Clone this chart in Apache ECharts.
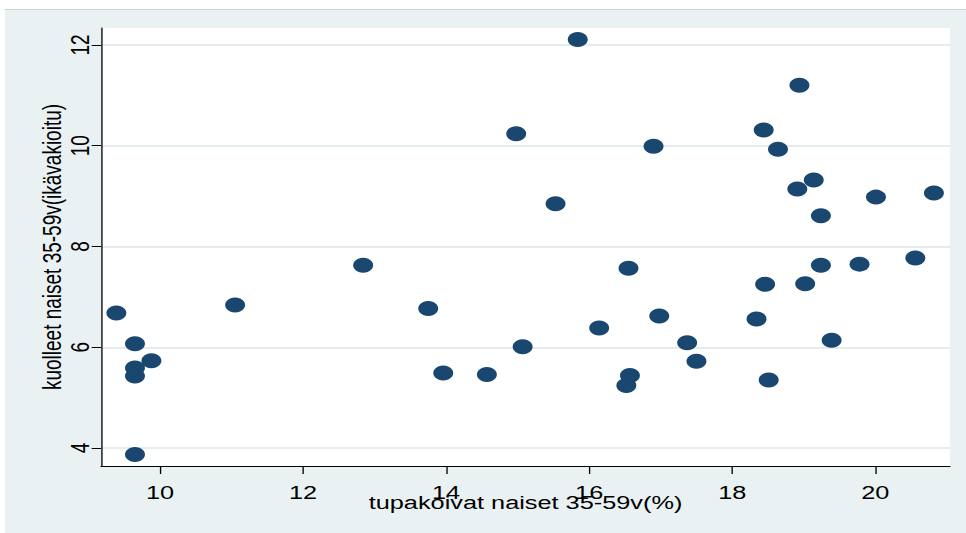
<!DOCTYPE html>
<html>
<head>
<meta charset="utf-8">
<script src="https://cdn.jsdelivr.net/npm/echarts@6/dist/echarts.min.js"></script>
<style>
  html, body { margin: 0; padding: 0; background: #ffffff; width: 966px; height: 533px; overflow: hidden; }
  #frame { position: absolute; left: 5px; top: 9px; right: 0; bottom: 0; background: #eaf1f3; border-top: 1px solid #cfd4d6; }
  #chart { position: absolute; left: 0; top: 0; width: 725px; height: 533px; transform: scaleX(1.33241); transform-origin: 0 0; }
</style>
</head>
<body>
<div id="frame"></div>
<div id="chart"></div>
<script>
// Smoking women aged 35-59 (%) vs. age-standardised deaths of women aged 35-59
const smokingPct = [9.39, 9.65, 9.88, 9.65, 9.65, 9.65, 11.05, 12.84, 13.75, 13.96,
  14.57, 14.98, 15.07, 15.53, 15.84, 16.14, 16.52, 16.55, 16.57, 16.90,
  16.98, 17.37, 17.50, 18.34, 18.44, 18.46, 18.51, 18.64, 18.91, 18.94,
  19.02, 19.14, 19.24, 19.24, 19.39, 19.78, 20.01, 20.56, 20.82];
const deaths = [6.68, 6.07, 5.73, 5.59, 5.43, 3.87, 6.84, 7.63, 6.77, 5.49,
  5.46, 10.24, 6.01, 8.85, 12.11, 6.38, 5.24, 7.57, 5.44, 9.99,
  6.62, 6.09, 5.72, 6.56, 10.31, 7.25, 5.35, 9.93, 9.14, 11.20,
  7.26, 9.32, 8.61, 7.63, 6.14, 7.65, 8.98, 7.77, 9.06];
const xTicks = [10, 12, 14, 16, 18, 20];
const yTicks = [4, 6, 8, 10, 12];
const xTitle = 'tupakoivat naiset 35-59v(%)';
const yTitle = 'kuolleet naiset 35-59v(ikävakioitu)';

const points = smokingPct.map((x, i) => [x, deaths[i]]);
const font = '"Liberation Sans", Arial, Helvetica, sans-serif';

const chart = echarts.init(document.getElementById('chart'), null, { renderer: 'svg' });
chart.setOption({
  animation: false,
  backgroundColor: 'transparent',
  grid: {
    left: 75.8, right: 12, top: 28, bottom: 67,
    show: true, backgroundColor: '#ffffff', borderWidth: 0
  },
  xAxis: {
    type: 'value',
    min: 9.175, max: 21.045,
    name: xTitle,
    nameLocation: 'middle',
    nameGap: 27,
    nameMoveOverlap: false,
    nameTextStyle: { fontFamily: font, fontSize: 19, color: '#000' },
    axisLine: { show: true, onZero: false, lineStyle: { color: '#000', width: 1 } },
    axisTick: { show: true, length: 8, customValues: xTicks, lineStyle: { color: '#000' } },
    axisLabel: { customValues: xTicks, margin: 17, fontFamily: font, fontSize: 19, color: '#000' },
    splitLine: { show: false }
  },
  yAxis: {
    type: 'value',
    min: 3.643, max: 12.337,
    name: yTitle,
    nameLocation: 'middle',
    nameGap: 27,
    nameMoveOverlap: false,
    nameRotate: 90,
    nameTextStyle: { fontFamily: font, fontSize: 19, color: '#000' },
    axisLine: { show: true, onZero: false, lineStyle: { color: '#000', width: 1 } },
    axisTick: { show: true, length: 7, customValues: yTicks, lineStyle: { color: '#000' } },
    axisLabel: { customValues: yTicks, rotate: 90, margin: 6, fontFamily: font, fontSize: 19, color: '#000' },
    splitLine: { show: true, lineStyle: { color: '#e4ecf0', width: 2 } }
  },
  series: [{
    type: 'scatter',
    data: points,
    symbol: 'circle',
    symbolSize: 15,
    itemStyle: { color: '#1a476f', opacity: 1 }
  }]
});
</script>
</body>
</html>
